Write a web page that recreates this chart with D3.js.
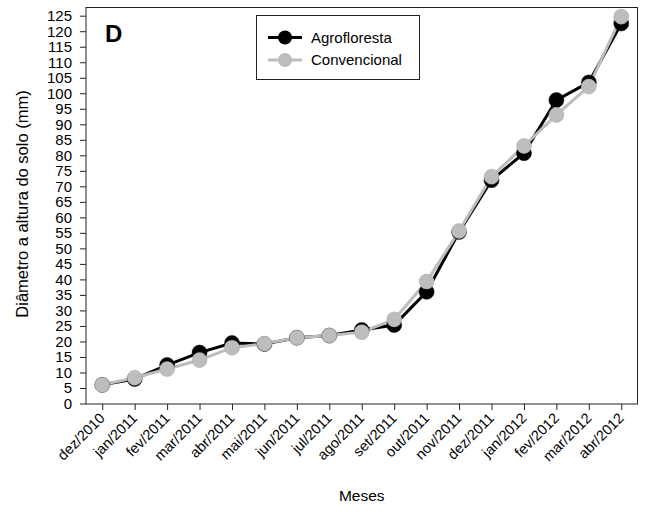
<!DOCTYPE html>
<html>
<head>
<meta charset="utf-8">
<script src="https://cdn.jsdelivr.net/npm/d3@7"></script>
<style>
  body { margin: 0; background: #fff; }
  svg { font-family: "Liberation Sans", Arial, sans-serif; }
</style>
</head>
<body>
<div id="chart"></div>
<script>
// month labels along the x axis
const months = ["dez/2010", "jan/2011", "fev/2011", "mar/2011", "abr/2011", "mai/2011",
  "jun/2011", "jul/2011", "ago/2011", "set/2011", "out/2011", "nov/2011",
  "dez/2011", "jan/2012", "fev/2012", "mar/2012", "abr/2012"];

// diameter (mm)
const agrofloresta = [6, 7.9, 12.4, 16.4, 19.5, 19.2, 21.2, 21.9, 23.7, 25.3, 36, 55.3, 72, 80.7, 97.8, 103.5, 122.5];
const convencional = [6, 8.3, 11.1, 14, 18, 19.3, 21.2, 21.9, 23, 27.1, 39.3, 55.6, 73.1, 83, 93, 102.2, 124.7];

const yTicks = d3.range(0, 126, 5);

const width = 645, height = 513;
const frame = { left: 86, right: 637.5, top: 7.5, bottom: 404 };

const svg = d3.select("#chart").append("svg")
  .attr("width", width)
  .attr("height", height)
  .attr("viewBox", [0, 0, width, height]);

const x = d3.scaleLinear().domain([-0.5, months.length - 0.5]).range([frame.left, frame.right]);
const y = d3.scaleLinear().domain([0, 125]).range([403.5, 15.7]);

// frame
svg.append("rect")
  .attr("x", frame.left)
  .attr("y", frame.top)
  .attr("width", frame.right - frame.left)
  .attr("height", frame.bottom - frame.top)
  .attr("fill", "none")
  .attr("stroke", "#222")
  .attr("stroke-width", 1);

// y axis
const yAxis = svg.append("g")
  .attr("transform", `translate(${frame.left},0)`)
  .call(d3.axisLeft(y).tickValues(yTicks).tickSize(6).tickPadding(8));
yAxis.select(".domain").remove();
yAxis.selectAll("text").attr("font-size", 15).attr("fill", "#000").attr("font-family", null);
yAxis.selectAll("line").attr("stroke", "#222");

// x axis
const xAxis = svg.append("g")
  .attr("transform", `translate(0,${frame.bottom})`)
  .call(d3.axisBottom(x).tickValues(d3.range(months.length)).tickFormat(i => months[i]).tickSize(6));
xAxis.select(".domain").remove();
xAxis.selectAll("line").attr("stroke", "#222");
xAxis.selectAll("text")
  .attr("font-size", 14.5)
  .attr("font-family", null)
  .attr("fill", "#000")
  .attr("text-anchor", "end")
  .attr("dy", null)
  .attr("y", 0)
  .attr("transform", "translate(3,15) rotate(-45)");

// axis titles
svg.append("text")
  .attr("transform", `translate(28,204) rotate(-90)`)
  .attr("text-anchor", "middle")
  .attr("font-size", 16.5)
  .text("Diâmetro a altura do solo (mm)");

svg.append("text")
  .attr("x", (frame.left + frame.right) / 2)
  .attr("y", 501)
  .attr("text-anchor", "middle")
  .attr("font-size", 15.5)
  .text("Meses");

// panel letter
svg.append("text")
  .attr("x", 105)
  .attr("y", 42)
  .attr("font-size", 24)
  .attr("font-weight", "bold")
  .text("D");

const line = d3.line().x((d, i) => x(i)).y(d => y(d));

const series = [
  { name: "Agrofloresta", values: agrofloresta, color: "#000" },
  { name: "Convencional", values: convencional, color: "#bdbdbd" }
];

series.forEach(s => {
  svg.append("path")
    .datum(s.values)
    .attr("d", line)
    .attr("fill", "none")
    .attr("stroke", s.color)
    .attr("stroke-width", 3);
});

series.forEach(s => {
  svg.selectAll(null)
    .data(s.values)
    .join("circle")
    .attr("cx", (d, i) => x(i))
    .attr("cy", d => y(d))
    .attr("r", 7.5)
    .attr("fill", s.color)
    .attr("stroke", s === series[0] ? "#000" : "#aaa")
    .attr("stroke-width", 0.5);
});

// legend
const legend = svg.append("g");
legend.append("rect")
  .attr("x", 256.5)
  .attr("y", 15.5)
  .attr("width", 163)
  .attr("height", 64)
  .attr("fill", "#fff")
  .attr("stroke", "#222");

series.forEach((s, i) => {
  const ly = 37.5 + i * 22.5;
  legend.append("line")
    .attr("x1", 268).attr("x2", 302)
    .attr("y1", ly).attr("y2", ly)
    .attr("stroke", s.color)
    .attr("stroke-width", 3);
  legend.append("circle")
    .attr("cx", 285).attr("cy", ly)
    .attr("r", 7)
    .attr("fill", s.color);
  legend.append("text")
    .attr("x", 311)
    .attr("y", ly + 5)
    .attr("font-size", 15)
    .text(s.name);
});
</script>
</body>
</html>
